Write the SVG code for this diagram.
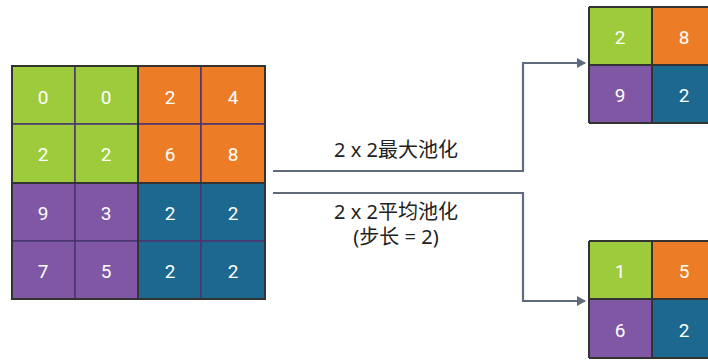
<svg xmlns="http://www.w3.org/2000/svg" width="708" height="360" viewBox="0 0 708 360">
  <defs>
    <marker id="arrow" viewBox="0 0 9 10" refX="8" refY="5" markerWidth="9" markerHeight="10" markerUnits="userSpaceOnUse" orient="auto">
      <path d="M0,0 L9,5 L0,10 z" fill="#5f6b7d"/>
    </marker>
  </defs>
  <style>
    .g { fill: #9dcb3c; }
    .o { fill: #ec7d26; }
    .p { fill: #7f57a5; }
    .b { fill: #1c688f; }
    .cell { stroke: #4b3570; stroke-width: 1.5; }
    .frame { fill: none; stroke: #333333; stroke-width: 2; }
    .num { fill: #ffffff; font-family: Roboto, "Liberation Sans", sans-serif; font-size: 19px; text-anchor: middle; }
    .lbl { fill: #222222; font-family: "Noto Sans", "Noto Sans CJK SC", sans-serif; font-size: 20px; text-anchor: middle; }
    .conn { fill: none; stroke: #5f6b7d; stroke-width: 2.2; }
  </style>

  <rect width="708" height="360" fill="#ffffff"/>

  <!-- 4x4 input feature map -->
  <g id="input">
    <rect class="cell g" x="12" y="66" width="63" height="58"/>
    <rect class="cell g" x="75" y="66" width="63" height="58"/>
    <rect class="cell o" x="138" y="66" width="63" height="58"/>
    <rect class="cell o" x="201" y="66" width="64" height="58"/>
    <rect class="cell g" x="12" y="124" width="63" height="59"/>
    <rect class="cell g" x="75" y="124" width="63" height="59"/>
    <rect class="cell o" x="138" y="124" width="63" height="59"/>
    <rect class="cell o" x="201" y="124" width="64" height="59"/>
    <rect class="cell p" x="12" y="183" width="63" height="58"/>
    <rect class="cell p" x="75" y="183" width="63" height="58"/>
    <rect class="cell b" x="138" y="183" width="63" height="58"/>
    <rect class="cell b" x="201" y="183" width="64" height="58"/>
    <rect class="cell p" x="12" y="241" width="63" height="58"/>
    <rect class="cell p" x="75" y="241" width="63" height="58"/>
    <rect class="cell b" x="138" y="241" width="63" height="58"/>
    <rect class="cell b" x="201" y="241" width="64" height="58"/>
    <rect class="frame" x="12" y="66" width="126" height="117"/>
    <rect class="frame" x="138" y="66" width="127" height="117"/>
    <rect class="frame" x="12" y="183" width="126" height="116"/>
    <rect class="frame" x="138" y="183" width="127" height="116"/>
    <text class="num" x="43" y="104">0</text>
    <text class="num" x="106" y="104">0</text>
    <text class="num" x="170" y="104">2</text>
    <text class="num" x="233" y="104">4</text>
    <text class="num" x="43" y="161">2</text>
    <text class="num" x="106" y="161">2</text>
    <text class="num" x="170" y="161">6</text>
    <text class="num" x="233" y="161">8</text>
    <text class="num" x="43" y="220">9</text>
    <text class="num" x="106" y="220">3</text>
    <text class="num" x="170" y="220">2</text>
    <text class="num" x="233" y="220">2</text>
    <text class="num" x="43" y="278">7</text>
    <text class="num" x="106" y="278">5</text>
    <text class="num" x="170" y="278">2</text>
    <text class="num" x="233" y="278">2</text>
  </g>

  <!-- 2x2 max pooling output -->
  <g id="max-output">
    <rect class="g" x="589" y="7" width="63" height="58"/>
    <rect class="o" x="652" y="7" width="63" height="58"/>
    <rect class="p" x="589" y="65" width="63" height="58"/>
    <rect class="b" x="652" y="65" width="63" height="58"/>
    <path d="M589,7 H715 M589,65 H715 M589,123 H715 M589,7 V123 M652,7 V123" fill="none" stroke="#333333" stroke-width="2"/>
    <text class="num" x="620" y="44">2</text>
    <text class="num" x="684" y="44">8</text>
    <text class="num" x="620" y="102">9</text>
    <text class="num" x="684" y="102">2</text>
  </g>

  <!-- 2x2 average pooling output -->
  <g id="avg-output">
    <rect class="g" x="589" y="241" width="63" height="58"/>
    <rect class="o" x="652" y="241" width="63" height="58"/>
    <rect class="p" x="589" y="299" width="63" height="59"/>
    <rect class="b" x="652" y="299" width="63" height="59"/>
    <path d="M589,241 H715 M589,299 H715 M589,358 H715 M589,241 V358 M652,241 V358" fill="none" stroke="#333333" stroke-width="2"/>
    <text class="num" x="620" y="278">1</text>
    <text class="num" x="684" y="278">5</text>
    <text class="num" x="620" y="337">6</text>
    <text class="num" x="684" y="337">2</text>
  </g>

  <!-- connectors -->
  <g id="connectors">
    <path class="conn" d="M273,171 H523 V63 H585" marker-end="url(#arrow)"/>
    <path class="conn" d="M273,193 H523 V301 H585" marker-end="url(#arrow)"/>
  </g>

  <g id="labels">
    <text class="lbl" x="396" y="157">2 x 2最大池化</text>
    <text class="lbl" x="396" y="219">2 x 2平均池化</text>
    <text class="lbl" x="396" y="244">(步长 = 2)</text>
  </g>
</svg>
